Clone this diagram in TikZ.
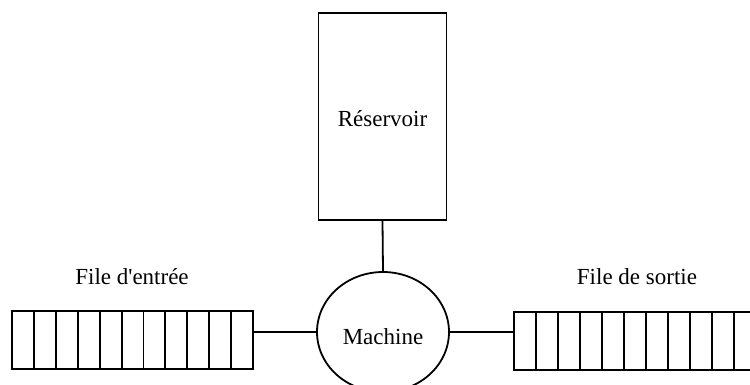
\documentclass[tikz,border=0pt]{standalone}
\usepackage{fontspec}
\setmainfont{Liberation Serif}[Ligatures=TeXOff]
\usetikzlibrary{shapes.geometric}
\begin{document}
\begin{tikzpicture}[x=1pt,y=-1pt,line width=1.8pt,
  lbl/.style={font=\fontsize{23}{26}\selectfont, inner sep=0pt},
  cell/.style={draw, minimum width=22pt, minimum height=58pt, inner sep=0pt, line width=1.8pt}]
\useasboundingbox (0,0) rectangle (750,384);
\node[draw, minimum width=128pt, minimum height=207pt, inner sep=0pt] (res) at (382.5,116.5) {};
\node[lbl] (restext) at (382.5,119) {Réservoir};
\node[draw, ellipse, minimum width=132pt, minimum height=120pt, inner sep=0pt] (mach) at (383,332) {};
\node[lbl] (machtext) at (383,337) {Machine};
% input queue
\foreach \i in {0,...,10} {
  \node[cell] (in\i) at ({23+21.9*\i},340) {};
}
% output queue
\foreach \i in {0,...,10} {
  \node[cell] (out\i) at ({525+22*\i},341) {};
}
\node[lbl] (inlbl) at (132,277) {File d'entrée};
\node[lbl] (outlbl) at (637,277) {File de sortie};
\draw (res.south) -- (mach.north);
\draw (mach.west) -- (mach.west -| in10.east);
\draw (mach.east) -- (mach.east -| out0.west);
\end{tikzpicture}
\end{document}
